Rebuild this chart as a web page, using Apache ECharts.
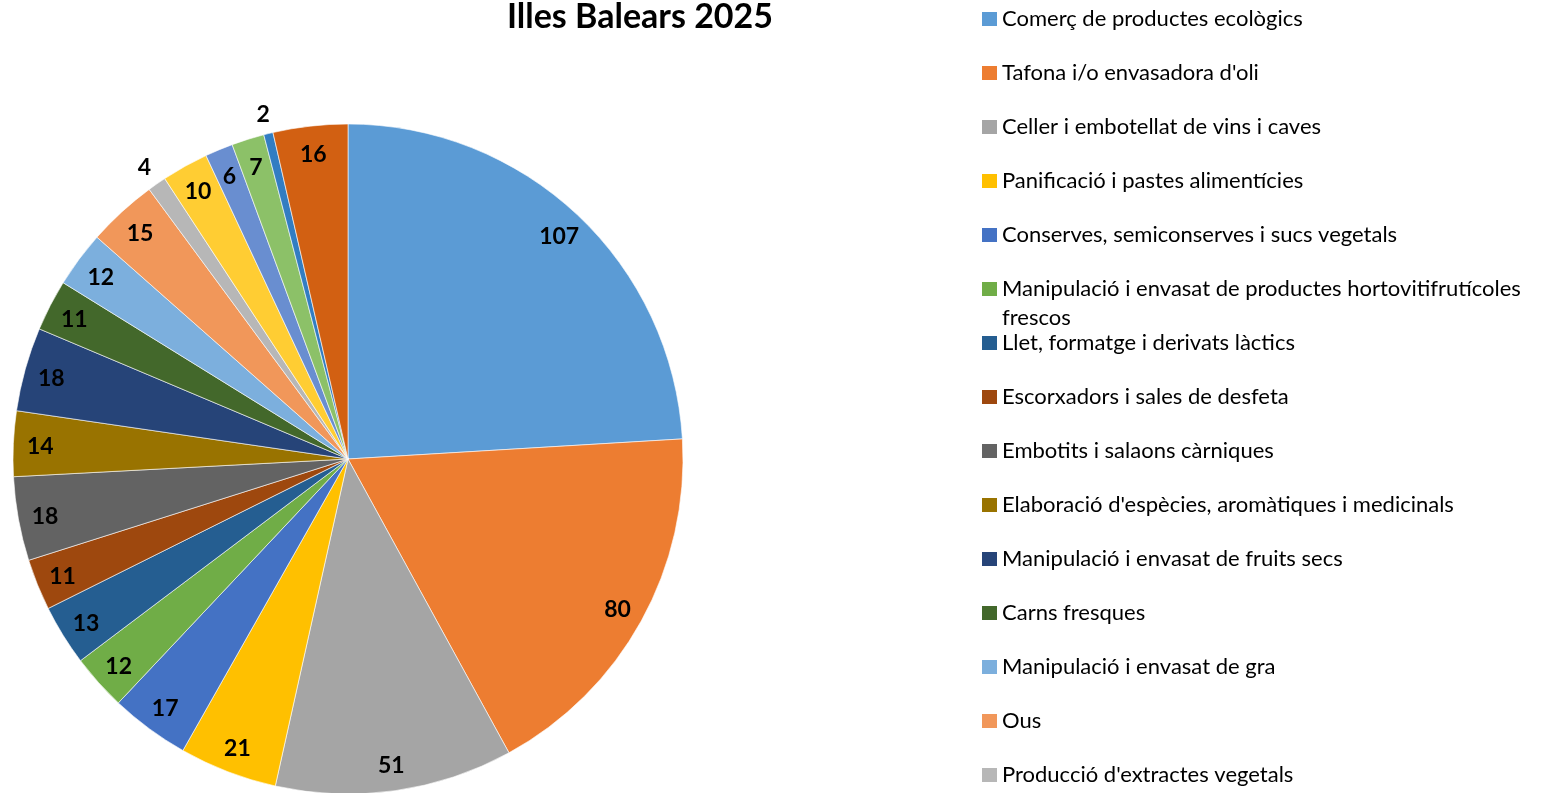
<!DOCTYPE html>
<html>
<head>
<meta charset="utf-8">
<script src="https://cdn.jsdelivr.net/npm/echarts@6/dist/echarts.min.js"></script>
<style>
  html, body { margin: 0; padding: 0; background: #fff; }
  #chart { width: 1546px; height: 793px; }
</style>
</head>
<body>
<div id="chart"></div>
<script>
// Activitats d'elaboració ecològica registrades, Illes Balears 2025
const categories = [
  "Comerç de productes ecològics",
  "Tafona i/o envasadora d'oli",
  "Celler i embotellat de vins i caves",
  "Panificació i pastes alimentícies",
  "Conserves, semiconserves i sucs vegetals",
  "Manipulació i envasat de productes hortovitifrutícoles frescos",
  "Llet, formatge i derivats làctics",
  "Escorxadors i sales de desfeta",
  "Embotits i salaons càrniques",
  "Elaboració d'espècies, aromàtiques i medicinals",
  "Manipulació i envasat de fruits secs",
  "Carns fresques",
  "Manipulació i envasat de gra",
  "Ous",
  "Producció d'extractes vegetals",
  "Pastisseria i rebosteria",
  "Mel i productes apícoles",
  "Elaboració de pinsos",
  "Gelats i postres",
  "Altres activitats"
];
const values = [107, 80, 51, 21, 17, 12, 13, 11, 18, 14, 18, 11, 12, 15, 4, 10, 6, 7, 2, 16];
const colors = [
  "#5B9BD5", "#ED7D31", "#A5A5A5", "#FFC000", "#4472C4", "#70AD47",
  "#255E91", "#9E480E", "#636363", "#997300", "#264478", "#43682B",
  "#7CAFDD", "#F1975A", "#B7B7B7", "#FFCD33", "#698ED0", "#8CC168",
  "#327DC2", "#D26012"
];
// Slices whose value label sits outside the pie
const outsideLabels = [14, 18];
// Number of entries visible in the legend column
const legendCount = 15;
// Legend entry that breaks onto a second line
const wrappedEntry = 5;
const wrappedLines = ["Manipulació i envasat de productes hortovitifrutícoles", "frescos"];

const FONT = "Lato, 'Noto Sans', sans-serif";
const CX = 348, CY = 459, R = 335;

const chart = echarts.init(document.getElementById('chart'), null, { renderer: 'canvas' });

const mainData = categories.map((n, i) => ({
  name: n, value: values[i], itemStyle: { color: colors[i] }
}));
const innerLabelData = categories.map((n, i) => ({
  name: n, value: values[i],
  label: { show: outsideLabels.indexOf(i) < 0 }
}));
const outerLabelData = categories.map((n, i) => ({
  name: n, value: values[i],
  label: { show: outsideLabels.indexOf(i) >= 0 }
}));

const labelStyle = {
  position: 'inside',
  formatter: '{c}',
  color: '#000',
  fontFamily: FONT,
  fontWeight: 'bold',
  fontSize: 23,
  offset: [0, 2]
};

// One legend block per entry so every row lands on the same 54px pitch
const LEG_X = 982, LEG_Y0 = 19, LEG_STEP = 54;
const legends = categories.slice(0, legendCount).map((n, i) => {
  const yc = LEG_Y0 + LEG_STEP * i;
  const wrapped = i === wrappedEntry;
  return {
    data: [n],
    orient: 'vertical',
    left: LEG_X,
    // the wrapped entry carries a blank first line so its first text line sits beside the swatch
    top: wrapped ? yc - 43.5 : yc - 13,
    padding: 0,
    itemWidth: 15,
    itemHeight: 14,
    icon: 'rect',
    selectedMode: false,
    itemStyle: { borderWidth: 0 },
    formatter: wrapped ? ' \n' + wrappedLines.join('\n') : '{name}',
    textStyle: {
      fontFamily: FONT, fontSize: 22, color: '#000',
      lineHeight: wrapped ? 29 : 26
    }
  };
});

chart.setOption({
  backgroundColor: '#fff',
  animation: false,
  title: {
    text: 'Illes Balears 2025',
    left: 640,
    top: 0,
    padding: 0,
    textAlign: 'center',
    textStyle: { fontFamily: FONT, fontWeight: 'bold', fontSize: 34, color: '#000' }
  },
  legend: legends,
  series: [
    {
      name: 'sectors',
      type: 'pie',
      center: [CX, CY],
      radius: [0, R],
      startAngle: 90,
      clockwise: true,
      avoidLabelOverlap: false,
      label: { show: false },
      labelLine: { show: false },
      itemStyle: { borderColor: '#ffffff', borderWidth: 0.6 },
      emphasis: { disabled: true },
      data: mainData
    },
    {
      name: 'inner-labels',
      type: 'pie',
      center: [CX, CY],
      radius: [275, R],
      startAngle: 90,
      clockwise: true,
      silent: true,
      avoidLabelOverlap: false,
      itemStyle: { color: 'rgba(0,0,0,0)', borderWidth: 0 },
      label: labelStyle,
      labelLine: { show: false },
      emphasis: { disabled: true },
      data: innerLabelData
    },
    {
      name: 'outer-labels',
      type: 'pie',
      center: [CX, CY],
      radius: [R + 5, R + 33],
      startAngle: 90,
      clockwise: true,
      silent: true,
      avoidLabelOverlap: false,
      itemStyle: { color: 'rgba(0,0,0,0)', borderWidth: 0 },
      label: labelStyle,
      labelLine: { show: false },
      emphasis: { disabled: true },
      data: outerLabelData
    }
  ]
});
</script>
</body>
</html>
